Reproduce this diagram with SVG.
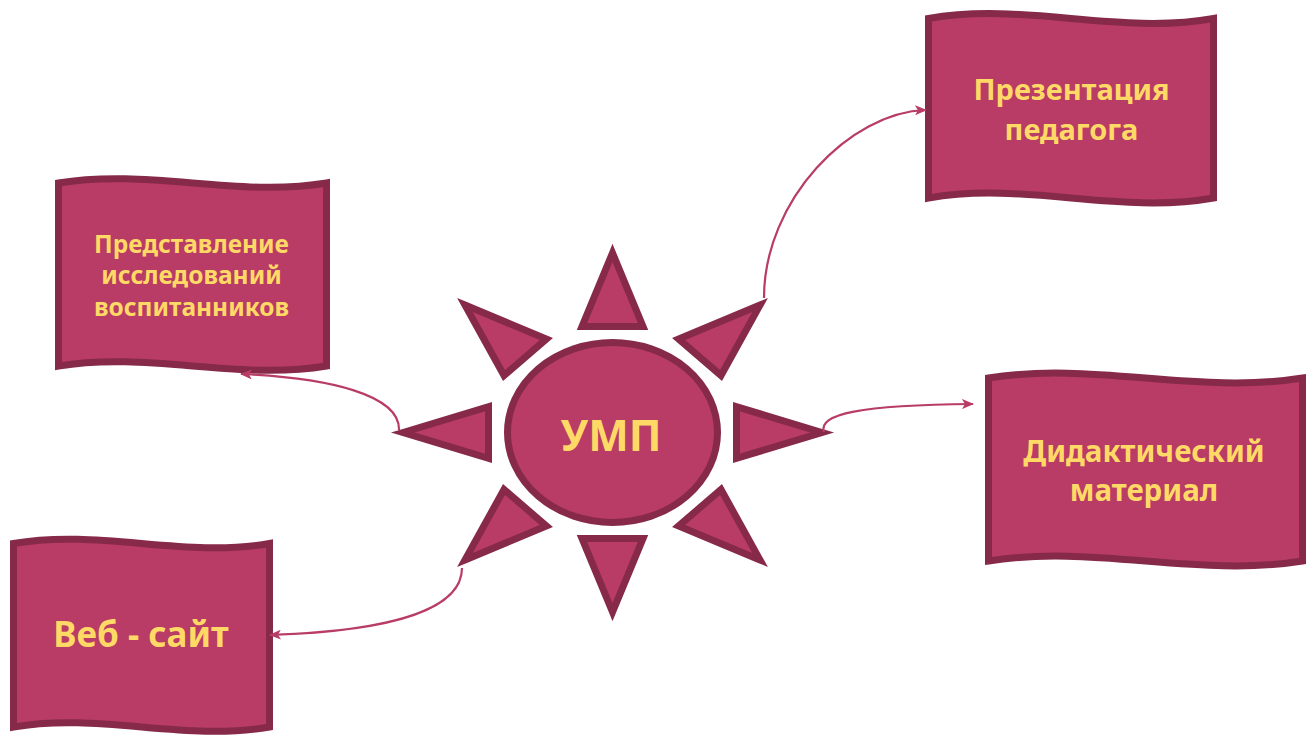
<svg xmlns="http://www.w3.org/2000/svg" width="1307" height="735" viewBox="0 0 1307 735">
<defs>
<style>
.shape{fill:#B83C66;stroke:#872A4A;stroke-width:7;stroke-linejoin:miter;stroke-miterlimit:10}
.lbl{fill:#FFD966;font-family:"Noto Sans","Open Sans","Liberation Sans",sans-serif;font-weight:bold;text-anchor:middle}
.conn{fill:none;stroke:#B83C66;stroke-width:2.2}
</style>
<marker id="arr" viewBox="0 0 12 10" refX="11" refY="5" markerWidth="12" markerHeight="10" markerUnits="userSpaceOnUse" orient="auto">
<path d="M0,0 L12,5 L0,10 L3,5 Z" fill="#B83C66"/>
</marker>
</defs>
<rect width="1307" height="735" fill="#FFFFFF"/>

<g id="sun">
<polygon class="shape" points="612.5,253 582,326.5 643,326.5"/>
<polygon class="shape" points="612.5,612 582,538.5 643,538.5"/>
<polygon class="shape" points="403,432.5 488.5,406.7 488.5,458.3"/>
<polygon class="shape" points="822,432.5 736.5,406.7 736.5,458.3"/>
<polygon class="shape" points="465,305.1 546.4,339 504,375.5"/>
<polygon class="shape" points="760,305.1 678.6,339 721,375.5"/>
<polygon class="shape" points="465,559.9 546.4,526 504,489.5"/>
<polygon class="shape" points="760,559.9 678.6,526 721,489.5"/>
<ellipse class="shape" cx="612.5" cy="432.5" rx="105" ry="90"/>
<text class="lbl" x="611" y="451" font-size="43">УМП</text>
</g>

<g id="node-presentation">
<path class="shape" d="M928.5,18.5 C1023.5,1.5 1118.5,35.5 1213.5,18.5 L1213.5,198 C1118.5,215 1023.5,181 928.5,198 Z"/>
<text class="lbl" x="1071.5" y="100" font-size="29">Презентация</text>
<text class="lbl" x="1071.5" y="139.5" font-size="29">педагога</text>
</g>

<g id="node-research">
<path class="shape" d="M58.5,183 C147.8,168 237.2,198 326.5,183 L326.5,366 C237.2,381 147.8,351 58.5,366 Z"/>
<text class="lbl" x="191.5" y="253" font-size="24.5">Представление</text>
<text class="lbl" x="191.5" y="284" font-size="24.5">исследований</text>
<text class="lbl" x="191.5" y="316" font-size="24.5">воспитанников</text>
</g>

<g id="node-didactic">
<path class="shape" d="M988.5,378 C1093.2,361 1197.8,395 1302.5,378 L1302.5,561 C1197.8,578 1093.2,544 988.5,561 Z"/>
<text class="lbl" x="1144" y="461.5" font-size="29.5">Дидактический</text>
<text class="lbl" x="1144" y="501" font-size="29.5">материал</text>
</g>

<g id="node-website">
<path class="shape" d="M13.5,543.5 C98.8,528.5 184.2,558.5 269.5,543.5 L269.5,727 C184.2,742 98.8,712 13.5,727 Z"/>
<text class="lbl" x="141" y="647" font-size="35">Веб - сайт</text>
</g>

<g id="connectors">
<path class="conn" marker-end="url(#arr)" d="M764,298 C764,200 850,112 926,110"/>
<path class="conn" marker-end="url(#arr)" d="M399,430 C400,395 330,378 241,374"/>
<path class="conn" marker-end="url(#arr)" d="M824,432 C818,414 860,405 973,404"/>
<path class="conn" marker-end="url(#arr)" d="M462,568 C462,600 420,630 270,635"/>
</g>
</svg>
